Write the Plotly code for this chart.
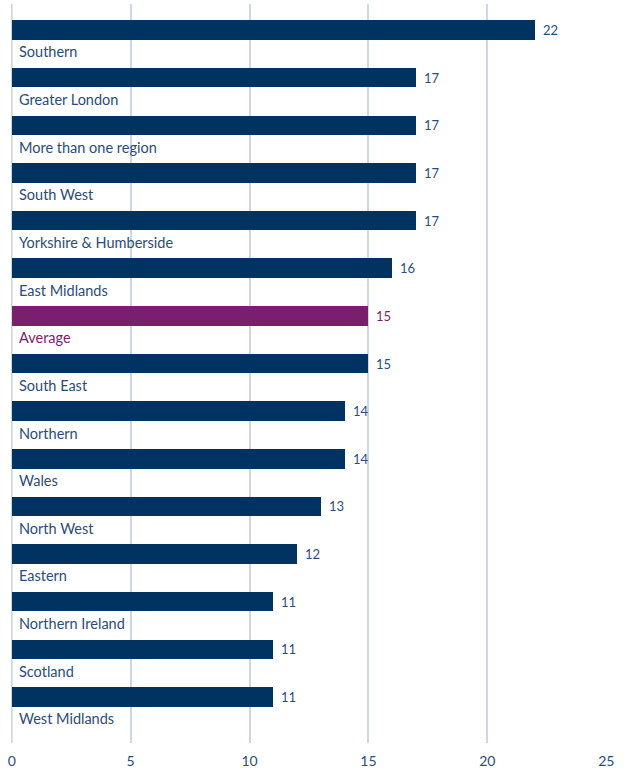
import plotly.graph_objects as go

regions = ["Southern", "Greater London", "More than one region", "South West",
           "Yorkshire & Humberside", "East Midlands", "Average", "South East",
           "Northern", "Wales", "North West", "Eastern", "Northern Ireland",
           "Scotland", "West Midlands"]
values = [22, 17, 17, 17, 17, 16, 15, 15, 14, 14, 13, 12, 11, 11, 11]
x_ticks = [0, 5, 10, 15, 20, 25]

NAVY = "#003262"
PURPLE = "#7a1f6e"
TEXT = "#2b4c7c"
GRID = "#cdd6e2"
FONT = "Lato"

colors = [PURPLE if r == "Average" else NAVY for r in regions]
label_colors = [PURPLE if r == "Average" else TEXT for r in regions]
pos = list(range(len(regions)))

fig = go.Figure()
fig.add_trace(go.Bar(
    x=values, y=pos, orientation="h", width=0.41,
    marker=dict(color=colors, line=dict(width=0)),
    hoverinfo="skip", showlegend=False,
))

for i, (r, v, c) in enumerate(zip(regions, values, label_colors)):
    fig.add_annotation(x=0, y=i + 0.46, text=r, xref="x", yref="y",
                       xanchor="left", yanchor="middle", xshift=5, showarrow=False,
                       font=dict(family=FONT, size=14.5, color=c))
    fig.add_annotation(x=v, y=i, text=str(v), xref="x", yref="y",
                       xanchor="left", yanchor="middle", xshift=6, showarrow=False,
                       font=dict(family=FONT, size=13, color=c))

fig.add_shape(type="line", xref="x", yref="paper", x0=x_ticks[0], x1=x_ticks[0],
              y0=0, y1=1, line=dict(color=GRID, width=2), layer="below")

fig.update_layout(
    width=625, height=773,
    margin=dict(l=11, r=18, t=4, b=30),
    paper_bgcolor="white", plot_bgcolor="white",
    bargap=0,
    xaxis=dict(range=[-0.03, 25.03], tickvals=x_ticks, showgrid=True,
               gridcolor=GRID, gridwidth=2, zeroline=False, showline=False,
               ticks="", tickfont=dict(family=FONT, size=14, color=TEXT),
               ticklabelstandoff=8),
    yaxis=dict(range=[14.966, -0.546], showticklabels=False, showgrid=False,
               zeroline=False, showline=False),
)

fig.write_html("out.html")
